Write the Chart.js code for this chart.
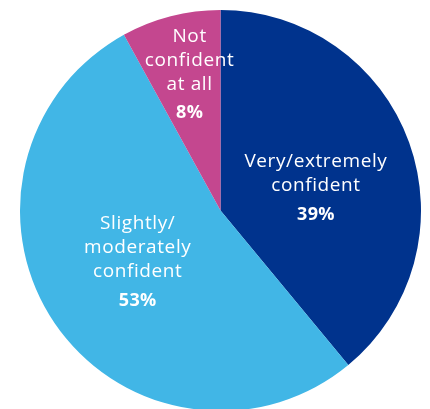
<!DOCTYPE html>
<html><head><meta charset="utf-8">
<script src="https://cdn.jsdelivr.net/npm/chart.js@4"></script>
<style>
html,body{margin:0;padding:0;width:430px;height:409px;overflow:hidden;background:#fff;}
#wrap{position:absolute;left:20px;top:10px;width:401px;height:401px;}
</style></head><body>
<div id="wrap"><canvas id="c"></canvas></div>
<script>
const categories = [["Very/extremely","confident"],["Slightly/","moderately","confident"],["Not","confident","at all"]];
const values = [39, 53, 8];
const colors = ["#00338D","#41B6E6","#C4478F"];
// label placement: fraction of radius from center, pixel nudge
const labelPlace = [{f:0.49,dx:3,dy:11},{f:0.445,dx:-9,dy:1.5},{f:0.72,dx:5,dy:4}];

const labelPlugin = {
  id:'labels',
  afterDatasetsDraw(chart){
    const ctx = chart.ctx;
    const meta = chart.getDatasetMeta(0);
    meta.data.forEach((arc,i)=>{
      const p = arc.getProps(['x','y','startAngle','endAngle','outerRadius']);
      const mid = (p.startAngle+p.endAngle)/2;
      const r = p.outerRadius*labelPlace[i].f;
      const cx = p.x + Math.cos(mid)*r + labelPlace[i].dx;
      const cy = p.y + Math.sin(mid)*r + labelPlace[i].dy;
      const lines = categories[i];
      const lh = 24, gap = 29;
      const total = (lines.length-1)*lh + gap;
      let y = cy - total/2;
      ctx.save();
      ctx.fillStyle = '#fff';
      ctx.textAlign = 'center';
      ctx.textBaseline = 'middle';
      ctx.letterSpacing = '0.6px';
      ctx.font = '19px "Open Sans", sans-serif';
      lines.forEach((t,k)=>{ ctx.fillText(t, cx, y + k*lh); });
      ctx.font = 'bold 18px "Open Sans", sans-serif';
      ctx.letterSpacing = '0.3px';
      ctx.fillText(values[i]+'%', cx, y + (lines.length-1)*lh + gap);
      ctx.restore();
    });
  }
};

new Chart(document.getElementById('c'),{
  type:'pie',
  data:{labels:categories.map(l=>l.join(' ')),datasets:[{data:values,backgroundColor:colors,borderWidth:0}]},
  options:{responsive:true,maintainAspectRatio:false,animation:false,
    layout:{padding:0},
    plugins:{legend:{display:false},tooltip:{enabled:false}}},
  plugins:[labelPlugin]
});
</script></body></html>
